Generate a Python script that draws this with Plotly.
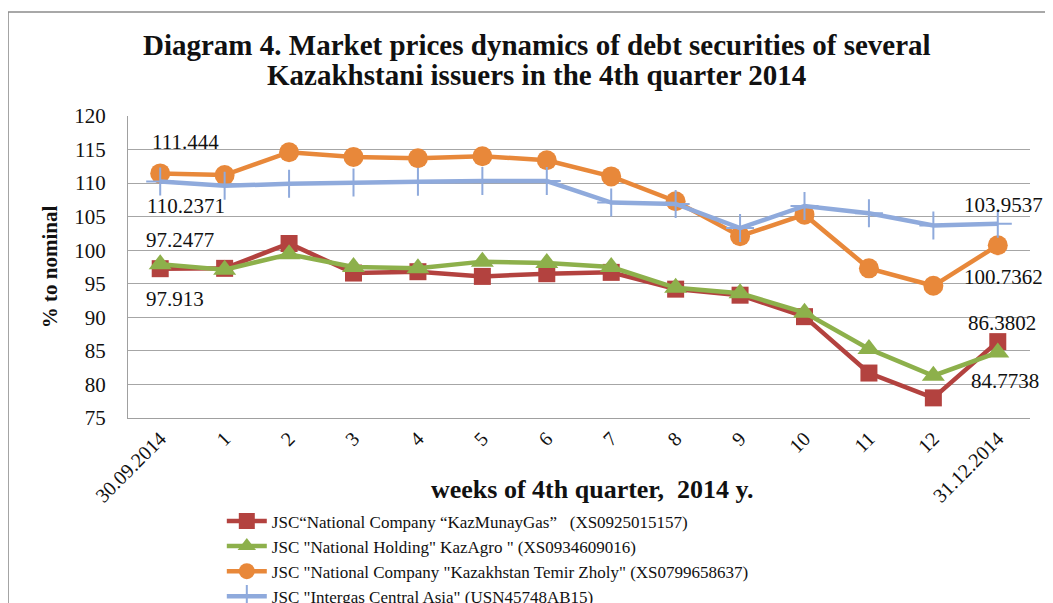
import plotly.graph_objects as go

categories = ["30.09.2014", "1", "2", "3", "4", "5", "6", "7", "8", "9", "10", "11", "12", "31.12.2014"]

kmg = [97.2477, 97.3, 101.0, 96.6, 96.8, 96.1, 96.5, 96.7, 94.2, 93.3, 90.1, 81.7, 78.0, 86.3802]
kazagro = [97.913, 97.1, 99.4, 97.5, 97.3, 98.3, 98.1, 97.5, 94.4, 93.6, 90.7, 85.3, 81.3, 84.7738]
ktz = [111.444, 111.2, 114.6, 113.9, 113.7, 114.0, 113.4, 111.0, 107.3, 102.1, 105.3, 97.3, 94.7, 100.7362]
intergas = [110.2371, 109.6, 109.9, 110.1, 110.2, 110.3, 110.3, 107.1, 106.9, 103.3, 106.6, 105.5, 103.7, 103.9537]

names = [
    "JSC\u201cNational Company \u201cKazMunayGas\u201d   (XS0925015157)",
    "JSC \"National Holding\" KazAgro \" (XS0934609016)",
    "JSC \"National Company \"Kazakhstan Temir Zholy\" (XS0799658637)",
    "JSC \"Intergas Central Asia\" (USN45748AB15)",
]
title_lines = ["Diagram 4. Market prices dynamics of debt securities of several",
               "Kazakhstani issuers in the 4th quarter 2014"]
series = [kmg, kazagro, ktz, intergas]
colors = ["#B3423F", "#8DB04B", "#E8883A", "#8FAADC"]
symbols = ["square", "triangle-up", "circle", "cross-thin"]
sizes = [17, 20, 20, 20]

FONT = "Liberation Serif"

fig = go.Figure()
for s, n, c, sym, sz in zip(series, names, colors, symbols, sizes):
    marker = dict(symbol=sym, size=sz, color=c)
    if sym == "cross-thin":
        marker["line"] = dict(color=c, width=2)
    fig.add_trace(go.Scatter(x=categories, y=s, name=n, mode="lines+markers",
                             line=dict(color=c, width=4.5), marker=marker))

# data labels for first and last points: (series index, point index, xshift, yshift)
label_spec = [
    (2, 0, 25, 31), (3, 0, 26, -24), (0, 0, 20, 29), (1, 0, 15, -35),
    (3, 13, 6, 19), (2, 13, 6, -32), (0, 13, 4, 19), (1, 13, 7, -29),
]
for si, pi, dx, dy in label_spec:
    v = series[si][pi]
    fig.add_annotation(x=categories[pi], y=v, text=str(v), showarrow=False,
                       xanchor="center", yanchor="middle",
                       xshift=dx, yshift=dy, font=dict(family=FONT, size=21, color="#111"))

# title lines
fig.add_annotation(x=0.4534, y=1.235, xref="paper", yref="paper", text=f"<b>{title_lines[0]}</b>",
                   showarrow=False, xanchor="center", yanchor="middle",
                   font=dict(family=FONT, size=29, color="#111"))
fig.add_annotation(x=0.4534, y=1.136, xref="paper", yref="paper", text=f"<b>{title_lines[1]}</b>",
                   showarrow=False, xanchor="center", yanchor="middle",
                   font=dict(family=FONT, size=29, color="#111"))

fig.add_annotation(x=0.515, y=-0.238, xref="paper", yref="paper",
                   text="<b>weeks of 4th quarter,  2014 y.</b>", showarrow=False,
                   xanchor="center", yanchor="middle",
                   font=dict(family=FONT, size=26, color="#111"))

# outer chart border
fig.add_shape(type="rect", xref="paper", yref="paper",
              x0=-0.133, x1=1.04, y0=-0.7, y1=1.344,
              line=dict(color="#8C8C8C", width=1.5), layer="below")

# the page has an 8px body margin; the figure is sized so it ends at the window edge
fig.update_layout(
    width=1045, height=595,
    margin=dict(l=120, r=23, t=108, b=185, autoexpand=False),
    paper_bgcolor="white", plot_bgcolor="white",
    font=dict(family=FONT, size=20, color="#111"),
    showlegend=True,
    legend=dict(x=0.104, y=-0.283, xanchor="left", yanchor="top",
                font=dict(family=FONT, size=17, color="#111"),
                tracegroupgap=0, itemwidth=40, bgcolor="rgba(0,0,0,0)"),
    xaxis=dict(type="category", range=[-0.5, 13.5], tickangle=-45, showgrid=False, showline=True,
               linecolor="#A0A0A0", linewidth=1, ticks="", tickfont=dict(size=20)),
    yaxis=dict(range=[75, 120], dtick=5, showgrid=True, gridcolor="#A6A6A6",
               gridwidth=1, showline=True, linecolor="#A0A0A0", linewidth=1,
               zeroline=False, ticks="", tickfont=dict(size=21), ticklabelstandoff=17,
               title=dict(text="<b>% to nominal</b>", font=dict(family=FONT, size=21), standoff=10)),
)

fig.write_html("out.html")
